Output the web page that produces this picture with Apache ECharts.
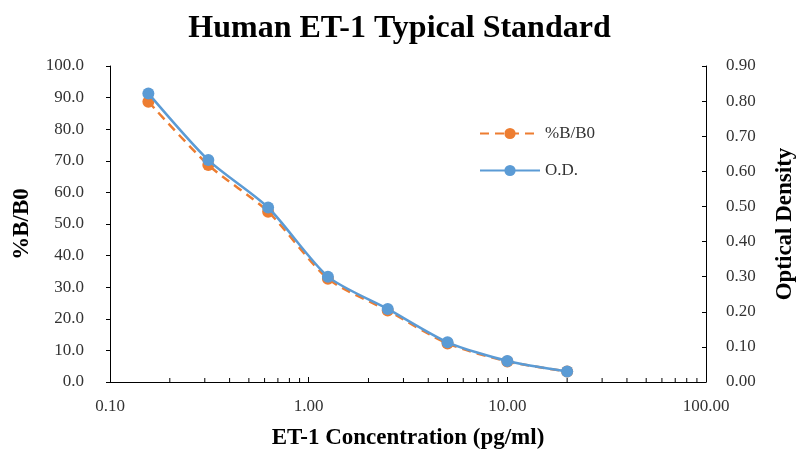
<!DOCTYPE html>
<html>
<head>
<meta charset="utf-8">
<script src="https://cdn.jsdelivr.net/npm/echarts@6/dist/echarts.min.js"></script>
<style>
  html, body { margin: 0; padding: 0; background: #fff; }
  #main { width: 799px; height: 450px; }
</style>
</head>
<body>
<div id="main"></div>
<script>
// concentrations (pg/ml)
var concentrations = [0.156, 0.3125, 0.625, 1.25, 2.5, 5, 10, 20]
var bb0Values = [88.7, 68.7, 53.9, 32.7, 22.6, 12.2, 6.5, 3.3]
var odValues = [0.822, 0.632, 0.497, 0.300, 0.208, 0.113, 0.060, 0.030]
var minorTickValues = [0.2, 0.3, 0.4, 0.5, 0.6, 0.7, 0.8, 0.9,
    2, 3, 4, 5, 6, 7, 8, 9, 20, 30, 40, 50, 60, 70, 80, 90]

var fontFamily = '"Liberation Serif", "Times New Roman", serif'
var axisColor = '#000'
var labelColor = '#333'

var chart = echarts.init(document.getElementById('main'))

function pairs(xs, ys) {
    return xs.map(function (x, i) { return [x, ys[i]] })
}

var option = {
    animation: false,
    title: {
        text: 'Human ET-1 Typical Standard',
        left: 'center',
        top: 8,
        textStyle: { fontFamily: fontFamily, fontSize: 32, fontWeight: 'bold', color: '#000' }
    },
    legend: {
        orient: 'vertical',
        left: 474,
        top: 120,
        itemGap: 20,
        itemWidth: 60,
        itemHeight: 14,
        textStyle: { fontFamily: fontFamily, fontSize: 17, color: labelColor },
        data: ['%B/B0', 'O.D.']
    },
    grid: { left: 110, right: 93, top: 66, bottom: 68, outerBoundsMode: 'none' },
    xAxis: {
        type: 'log',
        logBase: 10,
        min: 0.1,
        max: 100,
        name: 'ET-1 Concentration (pg/ml)',
        nameLocation: 'middle',
        nameGap: 45,
        nameTextStyle: { fontFamily: fontFamily, fontSize: 23, fontWeight: 'bold', color: '#000' },
        axisLine: { lineStyle: { color: axisColor, width: 1 } },
        axisTick: { inside: true, length: 5, lineStyle: { color: axisColor } },
        splitLine: { show: false },
        axisLabel: {
            fontFamily: fontFamily, fontSize: 17, color: labelColor, margin: 16,
            formatter: function (v) { return v.toFixed(2) }
        }
    },
    yAxis: [{
        type: 'value',
        min: 0,
        max: 100,
        interval: 10,
        name: '%B/B0',
        nameLocation: 'middle',
        nameGap: 76,
        nameTextStyle: { fontFamily: fontFamily, fontSize: 23, fontWeight: 'bold', color: '#000' },
        axisLine: { show: true, lineStyle: { color: axisColor } },
        axisTick: { show: true, length: 4, lineStyle: { color: axisColor } },
        splitLine: { show: false },
        axisLabel: {
            fontFamily: fontFamily, fontSize: 17, color: labelColor, margin: 26,
            formatter: function (v) { return v.toFixed(1) }
        }
    }, {
        type: 'value',
        min: 0,
        max: 0.9,
        interval: 0.1,
        name: 'Optical Density',
        nameLocation: 'middle',
        nameGap: 68,
        nameTextStyle: { fontFamily: fontFamily, fontSize: 23, fontWeight: 'bold', color: '#000' },
        axisLine: { show: true, lineStyle: { color: axisColor } },
        axisTick: { show: true, inside: true, length: 4, lineStyle: { color: axisColor } },
        splitLine: { show: false },
        axisLabel: {
            fontFamily: fontFamily, fontSize: 17, color: labelColor, margin: 20,
            formatter: function (v) { return v.toFixed(2) }
        }
    }],
    series: [{
        name: 'minor',
        type: 'custom',
        silent: true,
        yAxisIndex: 0,
        data: minorTickValues.map(function (v) { return [v, 0] }),
        renderItem: function (params, api) {
            var p = api.coord([api.value(0), 0])
            return {
                type: 'line',
                shape: { x1: p[0], y1: p[1], x2: p[0], y2: p[1] - 4 },
                style: { stroke: axisColor, lineWidth: 1 }
            }
        },
        z: 1
    }, {
        name: '%B/B0',
        type: 'line',
        yAxisIndex: 0,
        smooth: 0.25,
        data: pairs(concentrations, bb0Values),
        symbol: 'circle',
        symbolSize: 12,
        itemStyle: { color: '#ED7D31' },
        lineStyle: { color: '#ED7D31', width: 2.5, type: [9, 6] },
        z: 3
    }, {
        name: 'O.D.',
        type: 'line',
        yAxisIndex: 1,
        smooth: 0.25,
        data: pairs(concentrations, odValues),
        symbol: 'circle',
        symbolSize: 12,
        itemStyle: { color: '#5B9BD5' },
        lineStyle: { color: '#5B9BD5', width: 2.5 },
        z: 4
    }]
}

chart.setOption(option)
</script>
</body>
</html>
